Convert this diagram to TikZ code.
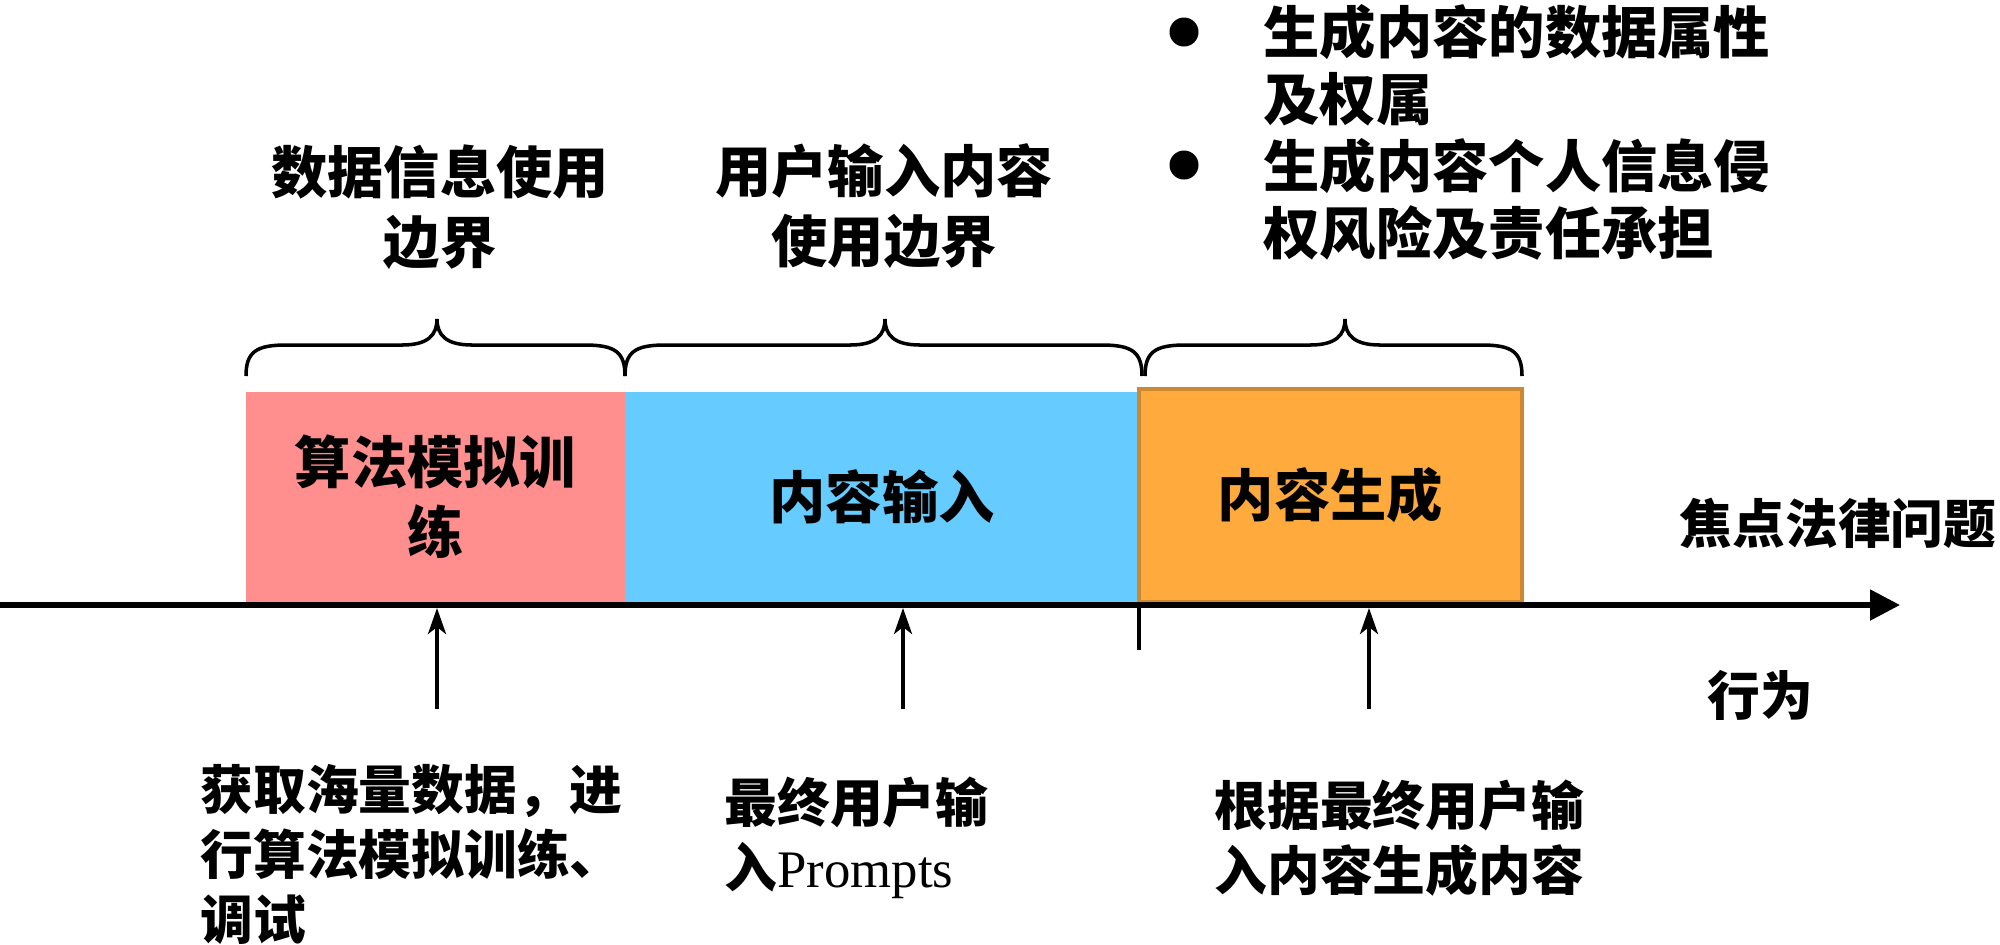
\documentclass[tikz,border=0pt]{standalone}
\usepackage{fontspec}
\newfontfamily\cjk{Noto Sans CJK SC}
\newfontfamily\tms{Liberation Serif}
\usetikzlibrary{arrows.meta}
\definecolor{pinkc}{RGB}{255,143,143}
\definecolor{bluec}{RGB}{102,204,255}
\definecolor{orangec}{RGB}{255,170,60}
\definecolor{orangeb}{RGB}{204,136,51}
\begin{document}
\begin{tikzpicture}[x=0.01cm,y=-0.01cm,
  big/.style={font={\cjk\bfseries\fontsize{16pt}{19.9pt}\selectfont}, inner sep=0pt, align=center},
  bul/.style={font={\cjk\bfseries\fontsize{16pt}{19pt}\selectfont}, inner sep=0pt, align=left, anchor=west},
  small/.style={font={\cjk\bfseries\fontsize{15pt}{18.5pt}\selectfont}, inner sep=0pt, align=left, anchor=west},
  label/.style={font={\cjk\bfseries\fontsize{15pt}{18pt}\selectfont}, inner sep=0pt},
  stagebox/.style={big, minimum height=2.10cm, inner sep=0pt, outer sep=0pt},
  axisline/.style={line width=1.5pt, -{Triangle[length=0.3cm,width=0.3cm]}},
  uparrow/.style={line width=1.1pt, -{Stealth[length=0.26cm,width=0.18cm,inset=0.07cm]}},
  tickline/.style={line width=1.1pt},
  bracepath/.style={line width=1pt},
  dot/.style={circle, fill=black, inner sep=0pt, minimum size=0.29cm}
]
\useasboundingbox (0,0) rectangle (2000,944);
\fill[white] (0,0) rectangle (2000,944);

% stage boxes
\node[stagebox, fill=pinkc, minimum width=3.79cm] (train) at (435.5,497) {算法模拟训\\练};
\node[stagebox, fill=bluec, minimum width=5.14cm] (input) at (882,497) {内容输入};
\node[stagebox, fill=orangec, draw=orangeb, line width=1pt, minimum width=3.83cm, minimum height=2.13cm] (gen) at (1330.5,495.5) {内容生成};

% axis
\coordinate (a0) at (0,605);
\coordinate (a1) at (1900,605);
\draw[axisline] (a0) -- (a1);
\coordinate (t0) at (1139,605);
\coordinate (t1) at (1139,650);
\draw[tickline] (t0) -- (t1);

% up arrows
\coordinate (s1) at (437,709); \coordinate (e1) at (437,608);
\coordinate (s2) at (903,709); \coordinate (e2) at (903,608);
\coordinate (s3) at (1369,709); \coordinate (e3) at (1369,608);
\draw[uparrow] (s1) -- (e1);
\draw[uparrow] (s2) -- (e2);
\draw[uparrow] (s3) -- (e3);

% braces
\draw[bracepath] (246,376) .. controls (246,352) and (256,345) .. (286,345) -- (402,345)
  .. controls (428,345) and (437,335) .. (437,319) .. controls (437,335) and (446,345) .. (472,345)
  -- (585,345) .. controls (615,345) and (625,352) .. (625,376);
\draw[bracepath] (625,376) .. controls (625,352) and (635,345) .. (665,345) -- (850,345)
  .. controls (876,345) and (885,335) .. (885,319) .. controls (885,335) and (894,345) .. (920,345)
  -- (1102,345) .. controls (1132,345) and (1142,352) .. (1142,376);
\draw[bracepath] (1145,376) .. controls (1145,352) and (1155,345) .. (1185,345) -- (1310,345)
  .. controls (1336,345) and (1345,335) .. (1345,319) .. controls (1345,335) and (1354,345) .. (1380,345)
  -- (1482,345) .. controls (1512,345) and (1522,352) .. (1522,376);

% headings
\node[big] (h1) at (440,207) {数据信息使用\\边界};
\node[big] (h2) at (884,206) {用户输入内容\\使用边界};

% bullets
\node[dot] (d1) at (1184,32) {};
\node[dot] (d2) at (1184,165) {};
\node[bul] (b1) at (1263,65) {生成内容的数据属性\\及权属};
\node[bul] (b2) at (1263,199.5) {生成内容个人信息侵\\权风险及责任承担};

% right labels
\node[label] (focus) at (1838,523) {焦点法律问题};
\node[label] (act) at (1760,695) {行为};

% bottom texts
\node[small] (l1) at (200,854) {获取海量数据，进\\行算法模拟训练、\\调试};
\node[small] (l2) at (724,838) {最终用户输\\入{\tms\mdseries Prompts}};
\node[small] (l3) at (1214,838) {根据最终用户输\\入内容生成内容};
\end{tikzpicture}
\end{document}
